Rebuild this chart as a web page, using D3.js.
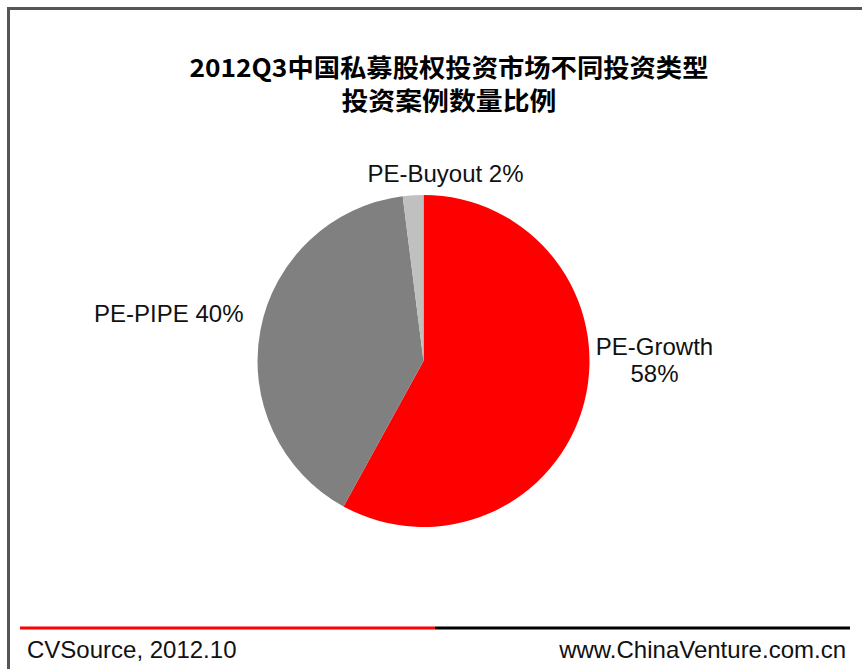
<!DOCTYPE html>
<html>
<head>
<meta charset="utf-8">
<script src="https://cdn.jsdelivr.net/npm/d3@7"></script>
<style>
  html, body { margin: 0; padding: 0; background: #fff; }
  svg { display: block; }
</style>
</head>
<body>
<svg id="chart" width="862" height="669"></svg>
<script>
// ---- data ----
const titleLines = ["2012Q3中国私募股权投资市场不同投资类型", "投资案例数量比例"];
const categories = ["PE-Growth", "PE-PIPE", "PE-Buyout"];
const values = [58, 40, 2];
const colors = ["#FF0000", "#808080", "#C0C0C0"];
const sourceText = "CVSource, 2012.10";
const siteText = "www.ChinaVenture.com.cn";

// ---- layout ----
const W = 862, H = 669;
const svg = d3.select("#chart");
const cx = 423.5, cy = 361, r = 166;

// frame (top and left edges visible)
svg.append("rect")
  .attr("x", 8.5).attr("y", 8.5)
  .attr("width", W + 20).attr("height", H + 20)
  .attr("fill", "#fff")
  .attr("stroke", "#555").attr("stroke-width", 3);

// title
const titleY = [77, 110];
const titleW = [519, 215];
svg.selectAll("text.title").data(titleLines).join("text")
  .attr("class", "title")
  .attr("x", 449)
  .attr("y", (d, i) => titleY[i])
  .attr("text-anchor", "middle")
  .attr("textLength", (d, i) => titleW[i])
  .attr("lengthAdjust", "spacingAndGlyphs")
  .style("font-family", "'Noto Sans CJK SC', sans-serif")
  .style("font-weight", "bold")
  .style("font-size", "25px")
  .style("fill", "#000")
  .text(d => d);

// pie
const data = categories.map((c, i) => ({ name: c, value: values[i], color: colors[i] }));
const pie = d3.pie().value(d => d.value).sort(null).startAngle(0).endAngle(2 * Math.PI);
const arc = d3.arc().innerRadius(0).outerRadius(r);
const arcs = pie(data);

const g = svg.append("g").attr("transform", `translate(${cx},${cy})`);
g.selectAll("path").data(arcs).join("path")
  .attr("d", arc)
  .attr("fill", d => d.data.color);

// labels
const labelFont = "'Liberation Sans', Arial, sans-serif";
function labelLayout(d) {
  if (d.data.name === "PE-Growth") {
    return { x: r + 65, y: -6, anchor: "middle", lines: [d.data.name, d.data.value + "%"] };
  } else if (d.data.name === "PE-PIPE") {
    return { x: -r - 14, y: -39, anchor: "end", lines: [d.data.name + " " + d.data.value + "%"] };
  } else {
    return { x: 22, y: -r - 13, anchor: "middle", lines: [d.data.name + " " + d.data.value + "%"] };
  }
}
arcs.forEach(d => {
  const L = labelLayout(d);
  const t = g.append("text")
    .attr("text-anchor", L.anchor)
    .style("font-family", labelFont)
    .style("font-size", "24px")
    .style("fill", "#111");
  L.lines.forEach((ln, i) => {
    t.append("tspan").attr("x", L.x).attr("y", L.y + i * 27).text(ln);
  });
});

// footer line
const lineY = 628;
svg.append("line").attr("x1", 20).attr("x2", 435).attr("y1", lineY).attr("y2", lineY)
  .attr("stroke", "#FF0000").attr("stroke-width", 3);
svg.append("line").attr("x1", 435).attr("x2", 850).attr("y1", lineY).attr("y2", lineY)
  .attr("stroke", "#000").attr("stroke-width", 3);

svg.append("text").attr("x", 27).attr("y", 658)
  .style("font-family", labelFont).style("font-size", "24px").style("fill", "#111")
  .text(sourceText);
svg.append("text").attr("x", 846).attr("y", 658).attr("text-anchor", "end")
  .style("font-family", labelFont).style("font-size", "24px").style("fill", "#111")
  .text(siteText);
</script>
</body>
</html>
